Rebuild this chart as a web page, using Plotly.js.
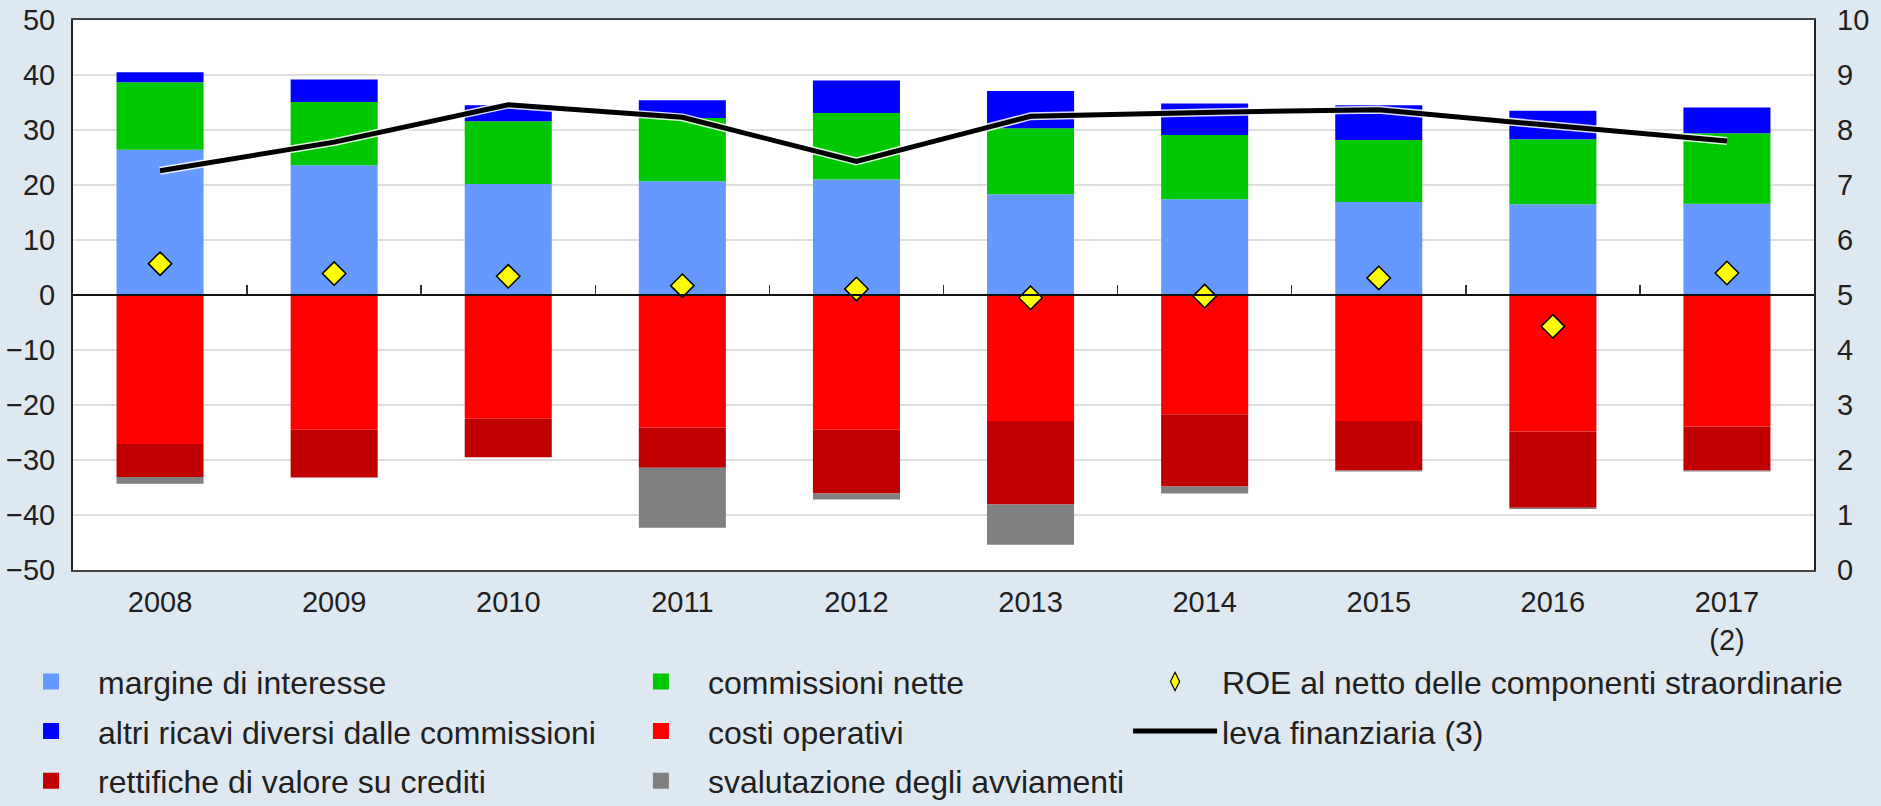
<!DOCTYPE html>
<html><head><meta charset="utf-8">
<script src="https://cdn.plot.ly/plotly-3.0.1.min.js"></script>
<style>html,body{margin:0;padding:0;background:#dde8f0;}#chart{width:1881px;height:806px;}</style>
</head><body><div id="chart"></div>
<script>
const years = ['2008','2009','2010','2011','2012','2013','2014','2015','2016','2017<br>(2)'];
const margine = [26.4,23.6,20.2,20.7,21.0,18.3,17.4,16.9,16.5,16.6];
const commissioni = [12.3,11.5,11.4,11.5,12.1,12.0,11.7,11.3,11.8,12.8];
const altriRicavi = [1.8,4.1,2.9,3.2,5.9,6.8,5.7,6.3,5.2,4.7];
const costi = [-27.1,-24.5,-22.5,-24.1,-24.5,-22.9,-21.7,-22.9,-24.8,-23.9];
const rettifiche = [-6.0,-8.7,-7.0,-7.3,-11.6,-15.2,-13.1,-9.0,-13.9,-8.0];
const svalutazione = [-1.2,0,0,-10.9,-1.1,-7.3,-1.3,-0.2,-0.2,-0.2];
const roe = [5.7,3.9,3.4,1.7,1.1,-0.5,-0.2,3.1,-5.7,4.0];
const leva = [7.26,7.78,8.46,8.23,7.43,8.25,8.32,8.37,8.08,7.80];
const names = {
  margine:'margine di interesse', commissioni:'commissioni nette', altri:'altri ricavi diversi dalle commissioni',
  costi:'costi operativi', rettifiche:'rettifiche di valore su crediti', svalutazione:'svalutazione degli avviamenti',
  roe:'ROE al netto delle componenti straordinarie', leva:'leva finanziaria (3)'
};
const colors = {margine:'#6699ff', commissioni:'#00c800', altri:'#0000ff', costi:'#ff0000',
  rettifiche:'#c00000', svalutazione:'#808080'};
const idx = years.map((_, i) => i);
const FONT = 'Liberation Sans, Arial, sans-serif';

function bar(y, key) {
  return {type:'bar', x: idx, y: y, name: names[key], marker:{color: colors[key], line:{width:0}},
    width: 0.5, showlegend:false, legendgroup: key};
}
// legend-only entries (bigger swatches than the default bar legend symbol)
function swatch(key, legend) {
  return {type:'scatter', mode:'markers', x:[null], y:[null], name: names[key], legend: legend,
    legendgroup: key, marker:{symbol:'square', size:16, color: colors[key]}};
}
const traces = [
  bar(margine, 'margine'),
  bar(commissioni, 'commissioni'),
  bar(altriRicavi, 'altri'),
  bar(costi, 'costi'),
  bar(rettifiche, 'rettifiche'),
  bar(svalutazione, 'svalutazione'),
  swatch('margine', 'legend'), swatch('altri', 'legend'), swatch('rettifiche', 'legend'),
  swatch('commissioni', 'legend2'), swatch('costi', 'legend2'), swatch('svalutazione', 'legend2'),
  {type:'scatter', mode:'markers', x: idx, y: roe, xaxis:'x2', yaxis:'y', name: names.roe, showlegend:false,
    legendgroup:'roe', marker:{symbol:'diamond', size:18, color:'#ffff00', line:{color:'#000', width:1.5}}},
  {type:'scatter', mode:'markers', x:[null], y:[null], name: names.roe, legend:'legend3', legendgroup:'roe',
    marker:{symbol:'diamond-tall', size:13, color:'#ffff00', line:{color:'#000', width:1.2}}},
  {type:'scatter', mode:'lines', x: idx, y: leva, yaxis:'y2', showlegend:false,
    line:{color:'rgba(255,255,255,0.85)', width:8}, hoverinfo:'skip'},
  {type:'scatter', mode:'lines', x: idx, y: leva, yaxis:'y2', name: names.leva,
    line:{color:'#000', width:5}, legend:'legend3', legendgroup:'leva'}
];
const legBase = {bgcolor:'rgba(0,0,0,0)', font:{family:FONT, size:32, color:'#231f20'},
  traceorder:'grouped', tracegroupgap:5, yanchor:'top', xanchor:'left', itemwidth:84, orientation:'v'};
const layout = {
  width:1881, height:806,
  paper_bgcolor:'#dde8f0', plot_bgcolor:'#ffffff',
  margin:{l:73, r:67, t:20, b:236, autoexpand:false},
  barmode:'relative',
  font:{family:FONT, size:29, color:'#231f20'},
  xaxis:{range:[-0.5,9.5], tickvals: idx, ticktext: years, showgrid:false, zeroline:false,
    showline:true, mirror:true, linecolor:'#444', linewidth:2, ticks:'', ticklabelstandoff:5,
    tickfont:{family:FONT, size:29, color:'#231f20'}},
  xaxis2:{overlaying:'x', anchor:'free', position:0.5, range:[-0.5,9.5],
    tickvals: idx.slice(0, -1).map(i => i + 0.5), ticks:'inside', ticklen:9, tickwidth:1.5, tickcolor:'#333',
    showticklabels:false, showline:true, linecolor:'#111', linewidth:2, showgrid:false, zeroline:false},
  yaxis:{range:[-50,50], dtick:10, gridcolor:'#dedede', gridwidth:1.5, zeroline:false,
    showline:true, mirror:true, linecolor:'#222', linewidth:2, ticks:'', ticklabelstandoff:10,
    tickfont:{family:FONT, size:29, color:'#231f20'}},
  yaxis2:{overlaying:'y', side:'right', range:[0,10], dtick:1, showgrid:false, zeroline:false,
    showline:false, ticks:'', ticklabelstandoff:22, tickfont:{family:FONT, size:29, color:'#231f20'}},
  showlegend:true,
  legend: Object.assign({}, legBase, {x:-0.0396, y:-0.153}),
  legend2: Object.assign({}, legBase, {x:0.3107, y:-0.153}),
  legend3: Object.assign({}, legBase, {x:0.606, y:-0.153}),
  hovermode:false
};
Plotly.newPlot('chart', traces, layout, {displayModeBar:false, staticPlot:true});
</script>
</body></html>
